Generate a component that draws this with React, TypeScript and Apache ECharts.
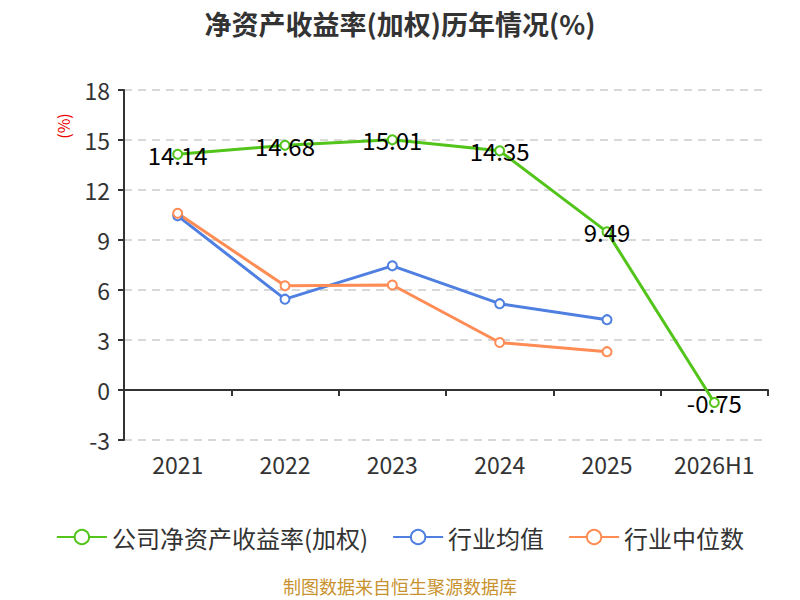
import React, { useEffect, useRef } from "react";
import * as echarts from "echarts";

const categories = ["2021", "2022", "2023", "2024", "2025", "2026H1"];
const companyRoe = [14.14, 14.68, 15.01, 14.35, 9.49, -0.75];
const industryAvg = [10.45, 5.45, 7.45, 5.18, 4.22, null];
const industryMedian = [10.6, 6.25, 6.3, 2.85, 2.3, null];
const seriesNames = ["公司净资产收益率(加权)", "行业均值", "行业中位数"];
const yTicks = { min: -3, max: 18, interval: 3 };

const FONT = "'Noto Sans CJK SC', 'Noto Sans', sans-serif";

export default function App() {
  const ref = useRef<HTMLDivElement>(null);
  useEffect(() => {
    document.body.style.margin = "0";
    if (!ref.current) return;
    const chart = echarts.init(ref.current, null, { renderer: "svg" });
    const mkSeries = (name: string, data: any[], color: string, withLabel: boolean) => ({
      name,
      type: "line",
      data,
      symbol: "circle",
      symbolSize: 9,
      showAllSymbol: true,
      lineStyle: { color, width: 3 },
      itemStyle: { color: "#fff", borderColor: color, borderWidth: 2 },
      label: withLabel
        ? {
            show: true,
            position: "inside",
            color: "#000",
            fontSize: 24,
            fontFamily: FONT,
          }
        : { show: false },
      emphasis: { disabled: true },
      z: withLabel ? 3 : 2,
    });
    chart.setOption({
      animation: false,
      textStyle: { fontFamily: FONT },
      title: {
        text: "净资产收益率(加权)历年情况(%)",
        left: "center",
        top: 5,
        textStyle: { fontSize: 27, fontWeight: "bold", color: "#333", fontFamily: FONT },
      },
      grid: { left: 124, right: 32, top: 90, bottom: 160, containLabel: false },
      legend: {
        top: 520,
        left: "center",
        itemWidth: 50,
        itemHeight: 18,
        itemGap: 24,
        textStyle: { fontSize: 24, color: "#333", fontFamily: FONT },
        data: seriesNames,
      },
      xAxis: {
        type: "category",
        data: categories,
        axisLine: { onZero: true, lineStyle: { color: "#333", width: 2 } },
        axisTick: { show: true, length: 6, lineStyle: { color: "#333", width: 2 } },
        axisLabel: {
          color: "#333",
          fontSize: 23,
          margin: 12,
          fontFamily: FONT,
        },
        position: "bottom",
      },
      yAxis: {
        type: "value",
        min: yTicks.min,
        max: yTicks.max,
        interval: yTicks.interval,
        axisLine: { show: true, lineStyle: { color: "#333", width: 2 } },
        axisTick: { show: true, length: 6, lineStyle: { color: "#333", width: 2 } },
        axisLabel: { color: "#333", fontSize: 23, margin: 14, fontFamily: FONT },
        splitLine: { lineStyle: { color: "#ccc", type: [8, 6], width: 1.5 } },
      },
      graphic: [
        {
          type: "text",
          x: 63,
          y: 126,
          rotation: Math.PI / 2,
          style: {
            text: "(%)",
            fill: "#e00",
            fontSize: 16,
            fontFamily: FONT,
            align: "center",
            verticalAlign: "middle",
          },
        },
        {
          type: "text",
          left: "center",
          top: 577,
          style: {
            text: "制图数据来自恒生聚源数据库",
            fill: "#c8922e",
            fontSize: 18,
            fontFamily: FONT,
          },
        },
      ],
      series: [
        mkSeries(seriesNames[0], companyRoe, "#52c41a", true),
        mkSeries(seriesNames[1], industryAvg, "#4f7fe0", false),
        mkSeries(seriesNames[2], industryMedian, "#ff8c55", false),
      ],
    });
    return () => chart.dispose();
  }, []);
  return <div ref={ref} style={{ width: 800, height: 600 }} />;
}
